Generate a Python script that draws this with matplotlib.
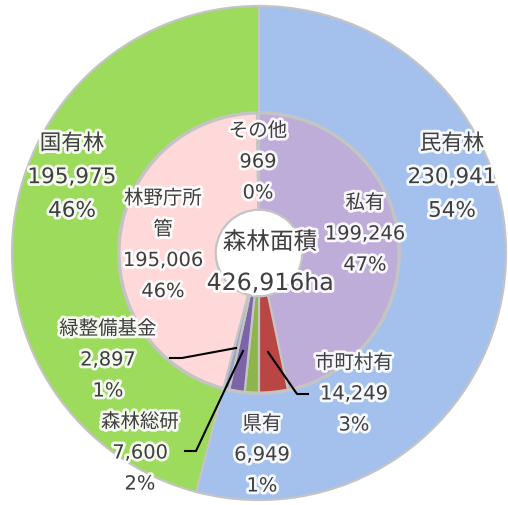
import matplotlib.pyplot as plt
import matplotlib.patheffects as pe

plt.rcParams['font.family'] = ['DejaVu Sans', 'Noto Sans CJK JP']

# 外側: 民有林 / 国有林
outer_labels = ['民有林', '国有林']
outer_values = [230941, 195975]
outer_pcts = ['54%', '46%']
outer_colors = ['#A4C1EE', '#9CDB5B']

# 内側: 内訳
inner_labels = ['私有', '市町村有', '県有', '森林総研', '緑整備基金', '林野庁所\n管', 'その他']
inner_values = [199246, 14249, 6949, 7600, 2897, 195006, 969]
inner_pcts = ['47%', '3%', '1%', '2%', '1%', '46%', '0%']
inner_colors = ['#BEACD9', '#B94643', '#8DB54B', '#7D63A8', '#9AA3C8', '#FFD8DA', '#E6DDF0']

total = sum(outer_values)

# 画像ピクセル -> データ座標
W, H = 508, 505
cx, cy, R = 259, 253, 247


def px(x, y):
    return (x - cx) / R, (cy - y) / R


fig = plt.figure(figsize=(W / 100, H / 100), dpi=100)
ax = fig.add_axes([0, 0, 1, 1])

edge = dict(edgecolor='#C4C4C4', linewidth=1.6)
ax.pie(outer_values, colors=outer_colors, radius=1.0, startangle=90,
       counterclock=False, wedgeprops=dict(width=0.43, **edge))
ax.pie(inner_values, colors=inner_colors, radius=0.565, startangle=90,
       counterclock=False, wedgeprops=dict(width=0.39, **edge))

ax.set_xlim(-cx / R, (W - cx) / R)
ax.set_ylim(-(H - cy) / R, cy / R)
ax.set_aspect('auto')
ax.axis('off')

glow = [pe.withStroke(linewidth=4, foreground='white', alpha=0.9)]


def label(text, x, y, size, spacing=1.45):
    tx, ty = px(x, y)
    ax.text(tx, ty, text, ha='center', va='center', fontsize=size,
            color='#404040', linespacing=spacing, path_effects=glow)


# 外側ラベル
outer_pos = [(452, 177), (72, 177)]
for name, v, p, (x, y) in zip(outer_labels, outer_values, outer_pcts, outer_pos):
    label(f'{name}\n{v:,}\n{p}', x, y, 15.5, 1.85)

# 内側ラベル
inner_pos = [(365, 234), (354, 394), (262, 455), (140, 453),
             (108, 360), (163, 245), (258, 162)]
for name, v, p, (x, y) in zip(inner_labels, inner_values, inner_pcts, inner_pos):
    label(f'{name}\n{v:,}\n{p}', x, y, 14, 1.8)

# 引き出し線
leaders = [
    [(170, 358), (182, 358), (236, 348)],
    [(185, 451), (196, 451), (243, 351)],
    [(308, 394), (297, 394), (268, 352)],
]
for pts in leaders:
    xs, ys = zip(*[px(x, y) for x, y in pts])
    ax.plot(xs, ys, color='black', linewidth=1.5)

# 中央
label('森林面積', 270, 242, 17)
label(f'{total:,}ha', 270, 283, 17)

fig.savefig('out.png', dpi=100)
